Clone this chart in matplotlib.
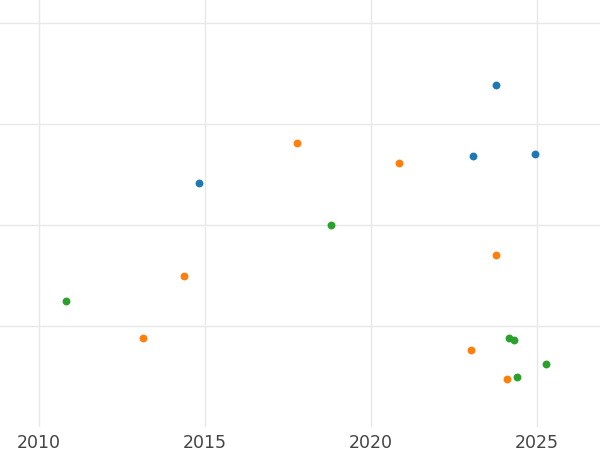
import matplotlib
matplotlib.use("Agg")
import matplotlib.pyplot as plt

blue_x = [2023.77, 2023.07, 2024.94, 2014.82]
blue_y = [3.39, 2.68, 2.70, 2.42]
orange_x = [2017.77, 2020.84, 2014.37, 2023.77, 2013.13, 2023.01, 2024.10]
orange_y = [2.81, 2.61, 1.50, 1.70, 0.88, 0.76, 0.48]
green_x = [2018.80, 2010.81, 2024.16, 2024.31, 2025.27, 2024.40]
green_y = [2.00, 1.25, 0.88, 0.86, 0.62, 0.50]
xticks = [2010, 2015, 2020, 2025]

fig = plt.figure(figsize=(6, 4.5), dpi=100)
ax = fig.add_axes([0, 0.051, 1, 0.949])
for xs, ys, c in [(blue_x, blue_y, "#1f77b4"), (orange_x, orange_y, "#ff7f0e"), (green_x, green_y, "#2ca02c")]:
    ax.scatter(xs, ys, s=32, color=c, zorder=3, linewidths=0)
ax.set_xlim(2008.83, 2026.9)
ax.set_ylim(0, 4.228)
ax.set_xticks(xticks)
ax.set_xticklabels([str(t) for t in xticks])
ax.set_yticks([1, 2, 3, 4])
ax.set_yticklabels([])
ax.grid(True, color="#e8e8e8", linewidth=1)
ax.set_axisbelow(True)
for s in ax.spines.values():
    s.set_visible(False)
ax.tick_params(length=0, labelsize=12.5, colors="#444444", pad=5)
fig.savefig("out.png", dpi=100)
